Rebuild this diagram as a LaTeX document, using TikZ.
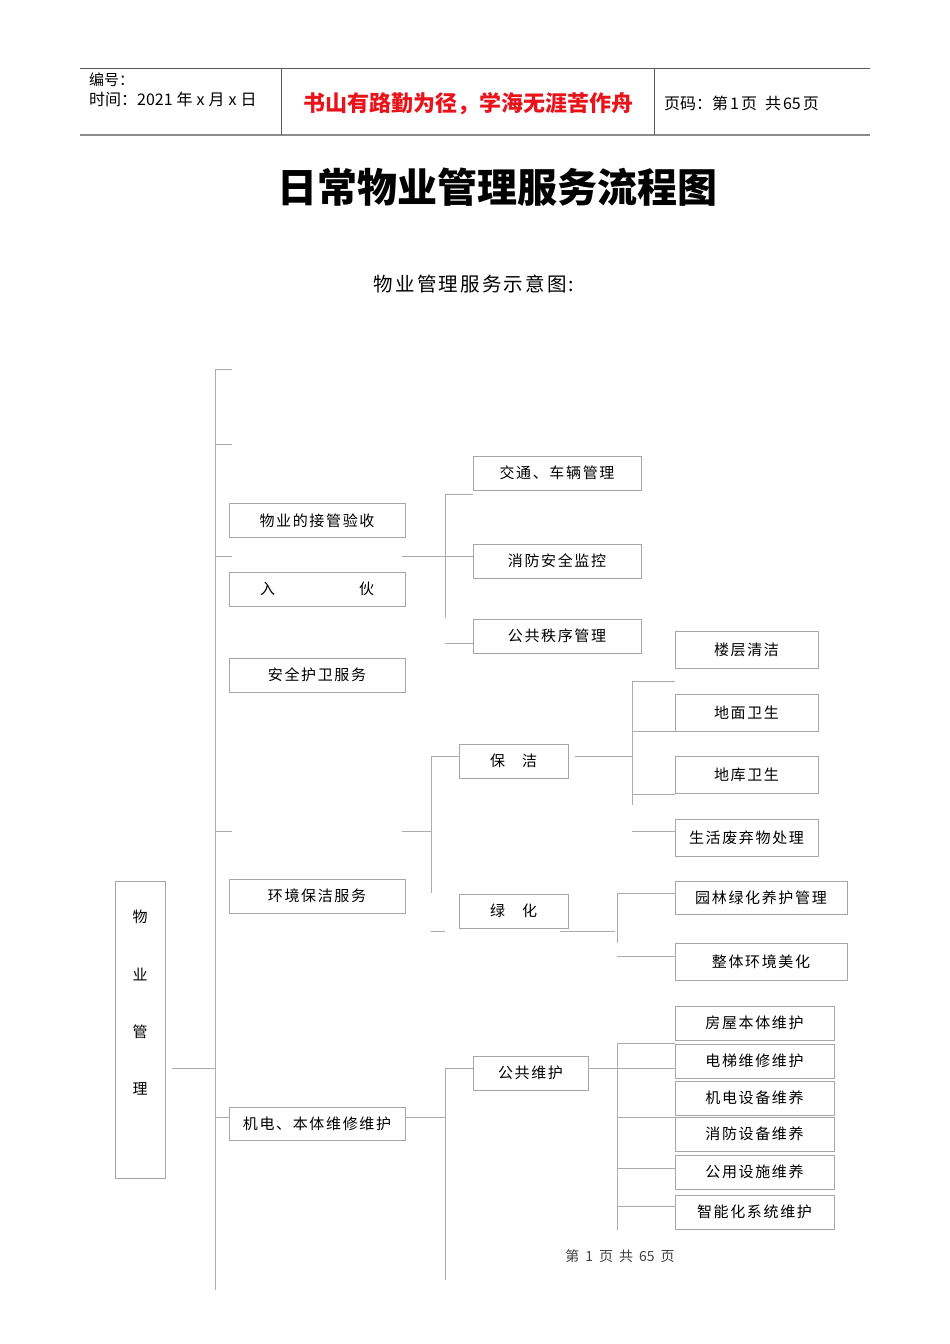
\documentclass[tikz,border=0pt]{standalone}
\usepackage{fontspec}
\setmainfont{Noto Sans CJK SC}
\newfontfamily\spaced{Noto Sans CJK SC}[LetterSpace=11]
\usepackage{tikz}
\usetikzlibrary{calc}

\definecolor{linkgray}{HTML}{ABABAB}
\definecolor{boxgray}{HTML}{A6A6A6}
\definecolor{mottored}{HTML}{E8141B}

\newcommand{\fs}[1]{\fontsize{#1}{#1}\selectfont}

\tikzset{
  box/.style={draw=boxgray, line width=0.8pt, inner sep=0pt, minimum height=34, font=\spaced\fs{15}},
  link/.style={draw=linkgray, line width=0.8pt},
  rule/.style={draw=black!65, line width=0.8pt},
}

\begin{document}
\begin{tikzpicture}[x=1pt, y=-1pt]
\useasboundingbox (0,0) rectangle (950,1344);

% page head
\draw [rule] (80,68) -- (870,68);
\draw [draw=black!45, line width=1.6pt] (80,135) -- (870,135);
\draw [rule] (281,68) -- (281,135);
\draw [rule] (654,68) -- (654,135);
\node [anchor=west, inner sep=0, font=\fs{15}] (num) at (89,80) {编号：};
\node [anchor=west, inner sep=0, font=\fs{16}] (date) at (89,99) {时间：2021\hspace{4pt}年\hspace{4pt}x\hspace{4pt}月\hspace{4pt}x\hspace{4pt}日};
\node [inner sep=0, font=\fs{22}\bfseries, text=mottored] (motto) at (468,104) {书山有路勤为径，学海无涯苦作舟};
\node [anchor=west, inner sep=0, font=\fs{16}] (pg) at (664,103) {页码：第\hspace{2pt}1\hspace{2pt}页\hspace{8pt}共\hspace{2pt}65\hspace{2pt}页};

% titles
\node [font=\fs{40}\bfseries] (title) at (497,187) {日常物业管理服务流程图};
\node [font=\spaced\fs{19.5}] (subtitle) at (474,284) {物业管理服务示意图:};

% root
\node [box, minimum width=50, minimum height=297] (root) at (140,1029.5) {};
\foreach \c [count=\i] in {物,业,管,理}
  \node [font=\fs{15}] (root\i) at (140,859.5+57.3*\i) {\c};

% first level
\node [box, minimum width=176] (accept) at (317,520.5) {物业的接管验收};
\node [box, minimum width=176] (movein) at (317,589) {入\hspace{84pt}伙};
\node [box, minimum width=176] (guard) at (317,675) {安全护卫服务};
\node [box, minimum width=176] (env) at (317,896) {环境保洁服务};
\node [box, minimum width=176, minimum height=33] (mep) at (317,1123.5) {机电、本体维修维护};

% security
\node [box, minimum width=168] (traffic) at (557,473) {交通、车辆管理};
\node [box, minimum width=168] (fire) at (557,561) {消防安全监控};
\node [box, minimum width=168] (order) at (557,636) {公共秩序管理};

% cleaning and green
\node [box, minimum width=109] (clean) at (513.5,761) {保\hspace{17pt}洁};
\node [box, minimum width=109] (green) at (513.5,911) {绿\hspace{17pt}化};
\foreach \n/\y/\t in {floor/649.5/楼层清洁, ground/712.5/地面卫生, garage/774.5/地库卫生, waste/837.5/生活废弃物处理}
  \node [box, minimum width=143, minimum height=37] (\n) at (746.5,\y) {\t};
\node [box, minimum width=172, minimum height=33] (garden) at (761,897.5) {园林绿化养护管理};
\node [box, minimum width=172, minimum height=37] (beauty) at (761,961.5) {整体环境美化};

% maintenance
\node [box, minimum width=115] (public) at (530.5,1073) {公共维护};
\foreach \n/\y/\t in {house/1023/房屋本体维护, lift/1061/电梯维修维护, equip/1098/机电设备维养, firedev/1134/消防设备维养, facil/1172/公用设施维养, smart/1212/智能化系统维护}
  \node [box, minimum width=159] (\n) at (754.5,\y) {\t};

% trunk
\coordinate (trunkTop) at (215,369);
\coordinate (trunkEnd) at (215,1290);
\draw [link] (trunkTop) -- (trunkEnd);
\foreach \y in {369,444,556,831} {\draw [link] (215,\y) -- +(17,0);}
\draw [link] (172,1068) -- (trunkTop |- 0,1068);
\draw [link] (trunkTop |- 0,1117) -- (mep.west |- 0,1117);

% security lines
\draw [link] (402,556) -- (fire.west |- 0,556);
\draw [link] (445,494) -- (445,618);
\draw [link] (445,494) -- (traffic.west |- 0,494);
\draw [link] (445,643) -- (order.west |- 0,643);

% environment lines
\draw [link] (402,831) -- (431,831);
\draw [link] (431,756) -- (431,893);
\draw [link] (431,756) -- (clean.west |- 0,756);
\draw [link] (431,931) -- (445,931);
\draw [link] (560,931) -- (615,931);
\draw [link] (575,756) -- (632,756);
\draw [link] (632,681) -- (632,805);
\foreach \y in {681,731,794,831} {\draw [link] (632,\y) -- (floor.west |- 0,\y);}
\draw [link] (617,893) -- (617,943);
\foreach \y in {893,956} {\draw [link] (617,\y) -- (garden.west |- 0,\y);}

% maintenance lines
\draw [link] (mep.east |- 0,1117) -- (445,1117);
\draw [link] (445,1068) -- (445,1280);
\draw [link] (445,1068) -- (public.west |- 0,1068);
\draw [link] (public.east |- 0,1068) -- (house.west |- 0,1068);
\draw [link] (617,1043) -- (617,1230);
\foreach \y in {1043,1117,1168,1206} {\draw [link] (617,\y) -- (house.west |- 0,\y);}

% page foot
\node [font=\fs{14}, text=black!75] (foot) at (620,1256) {第\hspace{6pt}1\hspace{6pt}页\hspace{6pt}共\hspace{6pt}65\hspace{6pt}页};

\end{tikzpicture}
\end{document}
